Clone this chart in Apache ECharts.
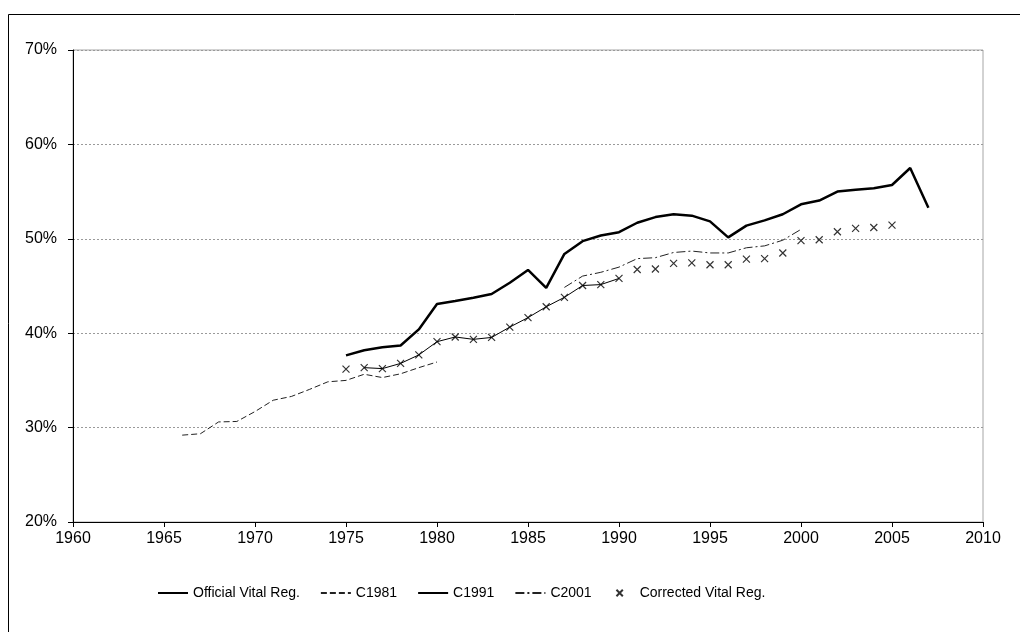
<!DOCTYPE html>
<html>
<head>
<meta charset="utf-8">
<script src="https://cdn.jsdelivr.net/npm/echarts@6/dist/echarts.min.js"></script>
<style>
  html, body { margin: 0; padding: 0; background: #fff; }
  #chart { width: 1020px; height: 632px; }
</style>
</head>
<body>
<div id="chart"></div>
<script>
// Share of births, by year (percent)
const officialYears = [1975, 1976, 1977, 1978, 1979, 1980, 1981, 1982, 1983, 1984, 1985, 1986, 1987, 1988, 1989, 1990,
  1991, 1992, 1993, 1994, 1995, 1996, 1997, 1998, 1999, 2000, 2001, 2002, 2003, 2004, 2005, 2006, 2007];
const officialValues = [37.65, 38.2, 38.5, 38.7, 40.4, 43.1, 43.4, 43.75, 44.15, 45.35, 46.7, 44.8, 48.4, 49.75, 50.35, 50.7,
  51.7, 52.3, 52.6, 52.45, 51.85, 50.15, 51.4, 51.95, 52.6, 53.65, 54.05, 55.0, 55.2, 55.35, 55.7, 57.5, 53.3];

const c1981Years = [1966, 1967, 1968, 1969, 1970, 1971, 1972, 1973, 1974, 1975, 1976, 1977, 1978, 1979, 1980];
const c1981Values = [29.2, 29.35, 30.6, 30.65, 31.7, 32.9, 33.3, 34.05, 34.85, 35.0, 35.65, 35.3, 35.7, 36.35, 36.95];

const c1991Years = [1976, 1977, 1978, 1979, 1980, 1981, 1982, 1983, 1984, 1985, 1986, 1987, 1988, 1989, 1990];
const c1991Values = [36.35, 36.25, 36.8, 37.7, 39.1, 39.6, 39.35, 39.55, 40.65, 41.65, 42.8, 43.8, 45.05, 45.15, 45.8];

const c2001Years = [1987, 1988, 1989, 1990, 1991, 1992, 1993, 1994, 1995, 1996, 1997, 1998, 1999, 2000];
const c2001Values = [44.85, 46.05, 46.45, 47.0, 47.9, 48.0, 48.55, 48.7, 48.5, 48.5, 49.05, 49.25, 49.85, 51.0];

const correctedYears = [1975, 1976, 1977, 1978, 1979, 1980, 1981, 1982, 1983, 1984, 1985, 1986, 1987, 1988, 1989, 1990,
  1991, 1992, 1993, 1994, 1995, 1996, 1997, 1998, 1999, 2000, 2001, 2002, 2003, 2004, 2005];
const correctedValues = [36.2, 36.35, 36.25, 36.8, 37.7, 39.1, 39.6, 39.35, 39.55, 40.65, 41.65, 42.8, 43.8, 45.05, 45.15, 45.8,
  46.75, 46.8, 47.4, 47.45, 47.25, 47.25, 47.85, 47.9, 48.5, 49.8, 49.9, 50.75, 51.1, 51.2, 51.45];

const seriesNames = ['Official Vital Reg.', 'C1981', 'C1991', 'C2001', 'Corrected Vital Reg.'];

const pairs = (xs, ys) => xs.map((x, i) => [x, ys[i]]);
const FONT = 'Liberation Sans, Arial, sans-serif';
const CROSS = 'path://M0,0L10,10M10,0L0,10';
// same cross, padded with empty moves so it draws smaller inside the legend box
const CROSS_SMALL = 'path://M-6,-6M0,0L10,10M10,0L0,10M16,16';

// line entries show only their stroke; the symbol is hidden
const legendData = seriesNames.map((name, i) => i < 4
  ? { name: name, itemStyle: { opacity: 0 } }
  : { name: name, icon: CROSS_SMALL });

const chart = echarts.init(document.getElementById('chart'), null, { renderer: 'canvas' });
chart.setOption({
  animation: false,
  backgroundColor: '#fff',
  textStyle: { fontFamily: FONT },
  graphic: [{
    type: 'rect',
    shape: { x: 8.5, y: 14.5, width: 1040, height: 660 },
    style: { fill: null, stroke: '#000', lineWidth: 1 },
    silent: true,
    z: 100
  }],
  grid: {
    left: 73, right: 37, top: 50, bottom: 110,
    show: true, borderColor: '#a6a6a6', borderWidth: 1, backgroundColor: '#fff'
  },
  legend: {
    left: 152, top: 580,
    itemWidth: 30, itemHeight: 14, itemGap: 20,
    textStyle: { fontFamily: FONT, fontSize: 14, color: '#000' },
    data: legendData
  },
  xAxis: {
    type: 'value', min: 1960, max: 2010, interval: 5,
    axisLine: { lineStyle: { color: '#000', width: 1 } },
    axisTick: { show: true, length: 5, lineStyle: { color: '#000' } },
    axisLabel: { color: '#000', fontSize: 16, fontFamily: FONT, margin: 9, formatter: v => String(v) },
    splitLine: { show: false }
  },
  yAxis: {
    type: 'value', min: 20, max: 70, interval: 10,
    axisLine: { show: true, lineStyle: { color: '#000', width: 1 } },
    axisTick: { show: true, length: 5, lineStyle: { color: '#000' } },
    axisLabel: { color: '#000', fontSize: 16, fontFamily: FONT, margin: 16, formatter: '{value}%' },
    splitLine: { show: true, lineStyle: { color: '#9a9a9a', width: 1, type: [2, 2] } }
  },
  series: [
    {
      name: seriesNames[0], type: 'line', data: pairs(officialYears, officialValues),
      symbol: 'none', lineStyle: { color: '#000', width: 2.5 }, itemStyle: { color: '#000' }, z: 5
    },
    {
      name: seriesNames[1], type: 'line', data: pairs(c1981Years, c1981Values),
      symbol: 'none', lineStyle: { color: '#222', width: 1, type: [6, 3] }, itemStyle: { color: '#222' }
    },
    {
      name: seriesNames[2], type: 'line', data: pairs(c1991Years, c1991Values),
      symbol: 'none', lineStyle: { color: '#000', width: 1 }, itemStyle: { color: '#000' }
    },
    {
      name: seriesNames[3], type: 'line', data: pairs(c2001Years, c2001Values),
      symbol: 'none', lineStyle: { color: '#222', width: 1, type: [9, 3, 2, 3] }, itemStyle: { color: '#222' }
    },
    {
      name: seriesNames[4], type: 'scatter', data: pairs(correctedYears, correctedValues),
      symbol: CROSS, symbolSize: 7,
      itemStyle: { color: 'rgba(0,0,0,0)', borderColor: '#000', borderWidth: 1.2 }, z: 6
    }
  ]
});
</script>
</body>
</html>
